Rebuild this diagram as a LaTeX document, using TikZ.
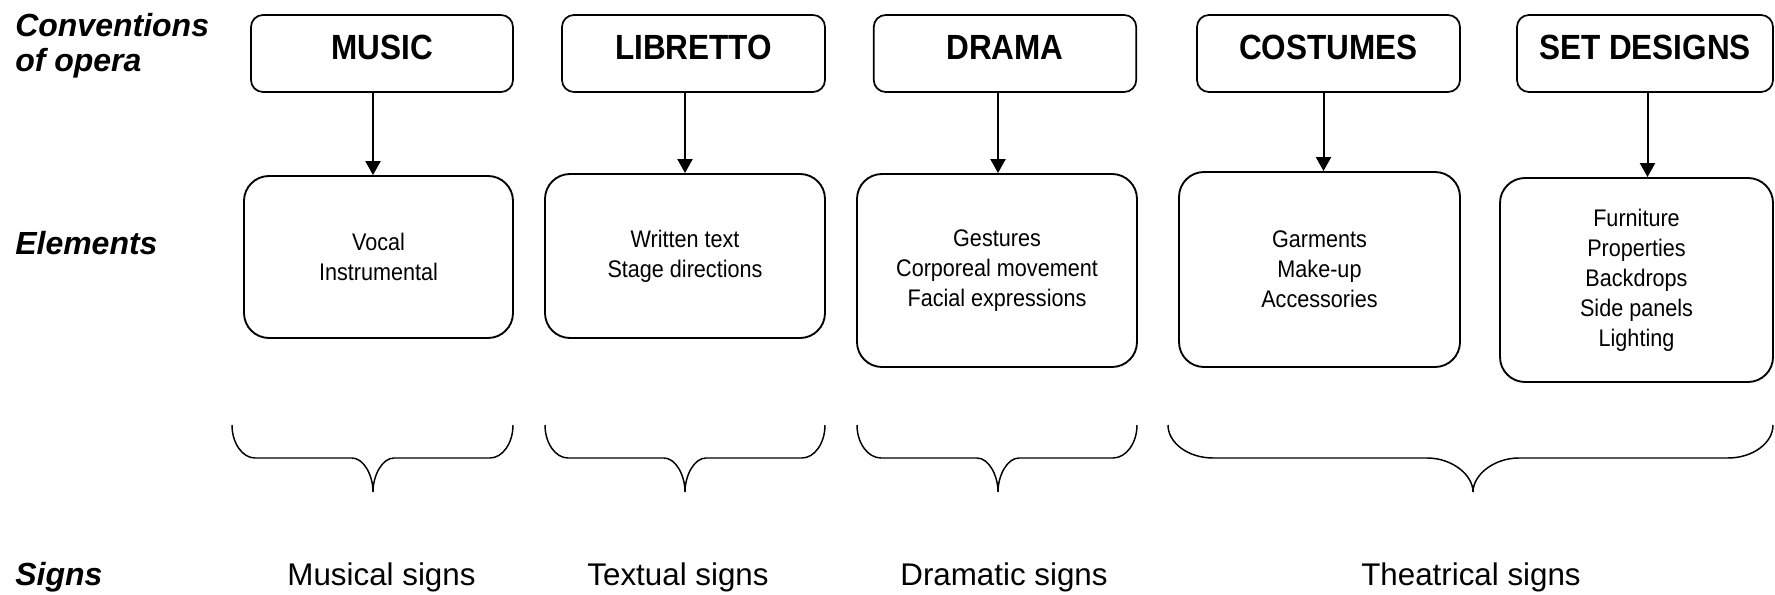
\documentclass[tikz,border=0pt]{standalone}
\usepackage{fontspec}
\setmainfont{Liberation Sans}
\newfontfamily\narrowf[FakeStretch=0.9]{Liberation Sans}
\usetikzlibrary{arrows.meta}
\tikzset{
  topbox/.style={draw, line width=1.3pt, rounded corners=9pt, minimum height=57.75pt, inner sep=0pt,
    font=\narrowf\bfseries\fontsize{26.25pt}{30pt}\selectfont, text height=18.75pt, text depth=9pt},
  elembox/.style={draw, line width=1.4pt, rounded corners=18.75pt, inner sep=0pt, align=center,
    font=\narrowf\fontsize{18pt}{22.5pt}\selectfont},
  rowlabel/.style={inner sep=0pt, align=left, font=\bfseries\itshape\fontsize{24pt}{26.25pt}\selectfont},
  signlabel/.style={inner sep=0pt, anchor=base, font=\fontsize{23.5pt}{28pt}\selectfont},
  arr/.style={line width=1.5pt, -{Triangle[length=10.5pt, width=11.25pt]}},
  bracestyle/.style={line width=1.1pt},
}
\newcommand\mybrace[5]{%
  \draw[bracestyle] (#1,425) .. controls (#1,443) and ({#1+0.45*#4},458) .. ({#1+#4},458)
    -- ({#2-#5},458) .. controls ({#2-0.45*#5},458) and (#2,475) .. (#2,492)
    .. controls (#2,475) and ({#2+0.45*#5},458) .. ({#2+#5},458)
    -- ({#3-#4},458) .. controls ({#3-0.45*#4},458) and (#3,443) .. (#3,425);}
\begin{document}
\begin{tikzpicture}[x=0.75pt, y=-0.75pt]
\useasboundingbox[fill=white] (0,0) rectangle (1775,595);

% row labels
\node[rowlabel, anchor=north west] (lconv) at (15,13) {Conventions\\of opera};
\node[rowlabel, anchor=base west] (lelem) at (15,255) {Elements};
\node[rowlabel, anchor=base west] (lsign) at (15,585) {Signs};

% top boxes
\node[topbox, minimum width=196.5pt]  (t1) at (382,53.5)    {MUSIC};
\node[topbox, minimum width=197.25pt] (t2) at (693.5,53.5)  {LIBRETTO};
\node[topbox, minimum width=196.875pt] (t3) at (1005,53.5)  {DRAMA};
\node[topbox, minimum width=197.25pt] (t4) at (1328.5,53.5) {COSTUMES};
\node[topbox, minimum width=192pt]    (t5) at (1645,53.5)   {SET DESIGNS};

% element boxes
\node[elembox, minimum width=201.75pt, minimum height=121.5pt]  (e1) at (378.5,257)  {Vocal\\Instrumental};
\node[elembox, minimum width=210pt,    minimum height=123pt]    (e2) at (685,256)    {Written text\\Stage directions};
\node[elembox, minimum width=210pt,    minimum height=144.75pt] (e3) at (997,270.5)  {Gestures\\Corporeal movement\\Facial expressions};
\node[elembox, minimum width=210.75pt, minimum height=146.25pt] (e4) at (1319.5,269.5) {Garments\\Make-up\\Accessories};
\node[elembox, minimum width=204.75pt, minimum height=153pt]    (e5) at (1636.5,280) {Furniture\\Properties\\Backdrops\\Side panels\\Lighting};

% arrow x positions
\coordinate (a1) at (373,0);
\coordinate (a2) at (685,0);
\coordinate (a3) at (998,0);
\coordinate (a4) at (1323.5,0);
\coordinate (a5) at (1647.5,0);
\draw[arr] (t1.south -| a1) -- (e1.north -| a1);
\draw[arr] (t2.south -| a2) -- (e2.north -| a2);
\draw[arr] (t3.south -| a3) -- (e3.north -| a3);
\draw[arr] (t4.south -| a4) -- (e4.north -| a4);
\draw[arr] (t5.south -| a5) -- (e5.north -| a5);

% braces
\mybrace{232}{373}{513}{23}{21}
\mybrace{545}{685}{825}{23}{21}
\mybrace{857}{998}{1137}{24}{21}
\mybrace{1168}{1473}{1773}{45}{46}

% sign labels
\node[signlabel] (s1) at (381.5,585) {Musical signs};
\node[signlabel] (s2) at (678,585)   {Textual signs};
\node[signlabel] (s3) at (1004,585)  {Dramatic signs};
\node[signlabel] (s4) at (1471,585)  {Theatrical signs};
\end{tikzpicture}
\end{document}
